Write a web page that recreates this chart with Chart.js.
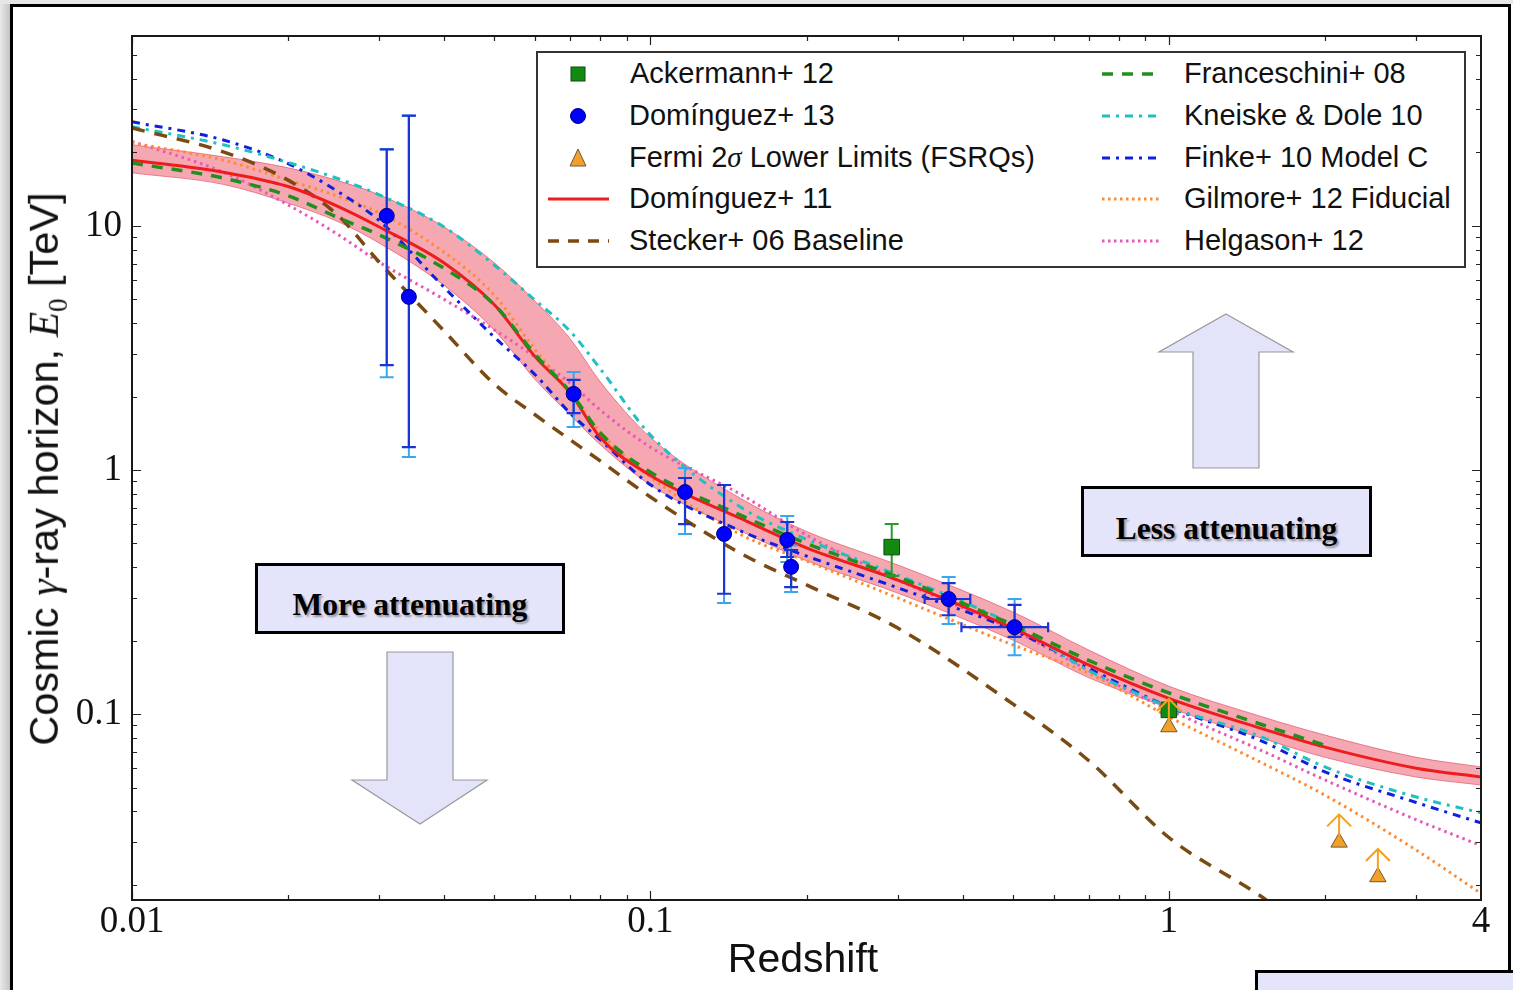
<!DOCTYPE html>
<html>
<head>
<meta charset="utf-8">
<script src="https://cdn.jsdelivr.net/npm/chart.js@4.4.1/dist/chart.umd.min.js"></script>
<style>
html,body{margin:0;padding:0;width:1513px;height:990px;overflow:hidden;background:#fff;}
#bgleft{position:absolute;left:0;top:0;width:10px;height:990px;background:linear-gradient(90deg,#e9e9e9,#c4c4c4);}
#bgtop{position:absolute;left:0;top:0;width:1513px;height:4px;background:#e6e6e6;}
#frame{position:absolute;left:10px;top:4px;width:1501px;height:1100px;border:3px solid #000;box-sizing:border-box;background:#fff;}
#c{position:absolute;left:0;top:0;}
#legend{position:absolute;left:536px;top:51px;width:930px;height:217px;border:2px solid #333;box-sizing:border-box;background:#fff;font-family:"Liberation Sans",Arial,sans-serif;font-size:29px;color:#111;}
#legend .t{position:absolute;white-space:nowrap;line-height:30px;height:30px;}
#legend svg{position:absolute;left:0;top:0;}
.it{font-family:"Liberation Serif","DejaVu Serif",serif;font-style:italic;}
#ytitle{position:absolute;left:47px;top:469px;transform:translate(-50%,-50%) rotate(-90deg);white-space:nowrap;font-family:"Liberation Sans",Arial,sans-serif;font-size:41.5px;color:#111;}
#xtitle{position:absolute;left:803px;top:958px;transform:translate(-50%,-50%);white-space:nowrap;font-family:"Liberation Sans",Arial,sans-serif;font-size:41px;color:#111;}
.box{position:absolute;border:3px solid #000;box-sizing:border-box;background:#e4e4fa;font-family:"Liberation Serif","Times New Roman",serif;font-weight:bold;font-size:31.5px;color:#000;text-align:center;text-shadow:2px 2px 2px rgba(0,0,0,0.35);}
#arrows{position:absolute;left:0;top:0;}
</style>
</head>
<body>
<div id="bgleft"></div>
<div id="bgtop"></div>
<div id="frame"></div>
<canvas id="c" width="1513" height="990"></canvas>

<svg id="arrows" width="1513" height="990">
  <polygon points="1226,314 1293,352 1259,352 1259,468 1193,468 1193,352 1159,352" fill="#e3e3f9" stroke="#9a9a9a" stroke-width="1.2"/>
  <polygon points="387,652 453,652 453,780 487,780 420,824 352,780 387,780" fill="#e3e3f9" stroke="#9a9a9a" stroke-width="1.2"/>
</svg>
<div class="box" style="left:255px;top:563px;width:310px;height:71px;line-height:78px;">More attenuating</div>
<div class="box" style="left:1081px;top:486px;width:291px;height:71px;line-height:80px;">Less attenuating</div>
<div class="box" style="left:1255px;top:970px;width:300px;height:60px;"></div>

<div id="ytitle">Cosmic <span class="it">γ</span>-ray horizon, <span class="it">E</span><sub style="font-family:'Liberation Serif',serif;font-size:27px;">0</sub> [TeV]</div>
<div id="xtitle">Redshift</div>

<div id="legend">
  <svg width="930" height="217">
    <rect x="33" y="14" width="14" height="14" fill="#128a12" stroke="#0b4d0b" stroke-width="1"/>
    <circle cx="40" cy="63" r="7.5" fill="#0000ff" stroke="#00007a" stroke-width="1"/>
    <polygon points="40,96 48,113 32,113" fill="#f2a02a" stroke="#6a5a3a" stroke-width="1"/>
    <line x1="10" y1="146" x2="71" y2="146" stroke="#ee1c1c" stroke-width="3"/>
    <line x1="10" y1="188" x2="71" y2="188" stroke="#7b4a12" stroke-width="3.5" stroke-dasharray="11,9"/>
    <line x1="564" y1="21" x2="624" y2="21" stroke="#1f8f1f" stroke-width="3.5" stroke-dasharray="11,9"/>
    <line x1="564" y1="63" x2="624" y2="63" stroke="#20c0c0" stroke-width="3" stroke-dasharray="8,6,3,6"/>
    <line x1="564" y1="105" x2="624" y2="105" stroke="#1020e0" stroke-width="3" stroke-dasharray="8,6,3,6"/>
    <line x1="564" y1="146" x2="624" y2="146" stroke="#ff8a30" stroke-width="3" stroke-dasharray="2.5,3.5"/>
    <line x1="564" y1="188" x2="624" y2="188" stroke="#e858b8" stroke-width="3" stroke-dasharray="2.5,3.5"/>
  </svg>
  <div class="t" style="left:92px;top:5px;">Ackermann+ 12</div>
  <div class="t" style="left:91px;top:47px;">Domínguez+ 13</div>
  <div class="t" style="left:91px;top:89px;">Fermi 2<span class="it">σ</span> Lower Limits (FSRQs)</div>
  <div class="t" style="left:91px;top:130px;">Domínguez+ 11</div>
  <div class="t" style="left:91px;top:172px;">Stecker+ 06 Baseline</div>
  <div class="t" style="left:646px;top:5px;">Franceschini+ 08</div>
  <div class="t" style="left:646px;top:47px;">Kneiske &amp; Dole 10</div>
  <div class="t" style="left:646px;top:89px;">Finke+ 10 Model C</div>
  <div class="t" style="left:646px;top:130px;">Gilmore+ 12 Fiducial</div>
  <div class="t" style="left:646px;top:172px;">Helgason+ 12</div>
</div>

<script>
// ---------- data ----------
const zGrid        = [0.01, 0.015, 0.02, 0.025, 0.03, 0.04, 0.05, 0.06, 0.07, 0.08, 0.1, 0.15, 0.2, 0.3, 0.5, 0.7, 1, 1.5, 2, 3, 4];
const dominguez11  = [18.6, 16.6, 14.5, 12.0, 9.9, 7.05, 4.75, 2.9, 2.07, 1.36, 0.95, 0.63, 0.48, 0.354, 0.225, 0.159, 0.116, 0.0876, 0.0732, 0.060, 0.0552];
const dom11Upper   = [21.5, 19.2, 17.3, 15.3, 13.4, 9.9, 7.06, 4.9, 3.45, 2.3, 1.36, 0.76, 0.56, 0.408, 0.262, 0.183, 0.130, 0.098, 0.082, 0.0665, 0.0607];
const dom11Lower   = [16.5, 14.8, 12.4, 10.4, 8.5, 5.7, 3.74, 2.34, 1.68, 1.27, 0.868, 0.56, 0.425, 0.313, 0.201, 0.141, 0.106, 0.080, 0.0665, 0.0552, 0.0512];
const franceschini = [18.1, 15.7, 13.3, 10.8, 9.18, 6.7, 4.75, 2.96, 2.09, 1.42, 0.98, 0.65, 0.50, 0.364, 0.232, 0.166, 0.122, 0.091, 0.0745, null, null];
const stecker      = [25.2, 20.1, 15.4, 11.0, 7.1, 3.71, 2.25, 1.68, 1.33, 1.09, 0.775, 0.453, 0.338, 0.225, 0.110, 0.0645, 0.0312, 0.0180, 0.0115, null, null];
const kneiske      = [25.5, 21.5, 18.2, 15.6, 13.4, 9.9, 6.9, 4.95, 3.7, 2.6, 1.39, 0.70, 0.52, 0.371, 0.232, 0.151, 0.107, 0.081, 0.0607, 0.0457, 0.0394];
const finke        = [26.7, 22.5, 18.0, 13.8, 10.5, 5.6, 3.5, 2.45, 1.71, 1.33, 0.87, 0.56, 0.444, 0.329, 0.221, 0.154, 0.107, 0.078, 0.058, 0.0434, 0.0358];
const gilmore      = [21.9, 18.6, 15.4, 13.2, 11.3, 7.8, 5.2, 3.1, 2.09, 1.43, 0.936, 0.541, 0.424, 0.299, 0.192, 0.147, 0.0974, 0.0636, 0.0465, 0.0277, 0.0184];
const helgason     = [22.2, 16.6, 12.2, 9.2, 7.1, 5.0, 3.75, 2.9, 2.27, 1.76, 1.24, 0.79, 0.541, 0.354, 0.221, 0.151, 0.104, 0.0713, 0.0537, 0.0369, 0.0289];

// Domínguez+ 13 measurements
const dom13Z      = [0.031, 0.0342, 0.0711, 0.1166, 0.1387, 0.1836, 0.1868, 0.376, 0.504];
const dom13E      = [11.0, 5.12, 2.05, 0.812, 0.547, 0.517, 0.401, 0.296, 0.227];
const dom13StatLo = [2.69, 1.24, 1.71, 0.60, 0.311, 0.44, 0.331, 0.254, 0.207];
const dom13StatHi = [20.6, 28.3, 2.34, 0.927, 0.868, 0.612, 0.47, 0.344, 0.28];
const dom13SystLo = [2.40, 1.13, 1.50, 0.547, 0.285, 0.42, 0.316, 0.234, 0.174];
const dom13SystHi = [20.6, 28.3, 2.52, 1.02, 0.868, 0.648, 0.49, 0.364, 0.296];
const dom13ZLo    = [null, null, null, null, null, null, null, 0.338, 0.398];
const dom13ZHi    = [null, null, null, null, null, null, null, 0.414, 0.585];

// Ackermann+ 12
const ackZ  = [0.292, 1.0];
const ackE  = [0.483, 0.104];
const ackLo = [0.368, null];
const ackHi = [0.60, null];

// Fermi 2-sigma lower limits (FSRQs)
const fermiZ = [1.0, 2.13, 2.53];
const fermiE = [0.0885, 0.0298, 0.0215];

// axis ticks
const xMajor = [0.01, 0.1, 1];
const xMinor = [0.02,0.03,0.04,0.05,0.06,0.07,0.08,0.09,0.2,0.3,0.4,0.5,0.6,0.7,0.8,0.9,2,3];
const xTickLabels = {0.01:'0.01', 0.1:'0.1', 1:'1', 4:'4'};
const yMajor = [0.1, 1, 10];
const yMinor = [0.02,0.03,0.04,0.05,0.06,0.07,0.08,0.09,0.2,0.3,0.4,0.5,0.6,0.7,0.8,0.9,2,3,4,5,6,7,8,9,20,30,40,50];
const yTickLabels = {0.1:'0.1', 1:'1', 10:'10'};

// ---------- helpers ----------
const curve = arr => zGrid.map((z,i)=> arr[i]==null ? null : {x:z, y:arr[i]}).filter(p=>p);
const pts = (zs, es) => zs.map((z,i)=>({x:z, y:es[i]}));

function lineDS(label, arr, color, width, dash, order){
  return {label, data: curve(arr), borderColor: color, backgroundColor: color, borderWidth: width,
    borderDash: dash, borderCapStyle:'butt', pointRadius: 0, fill: false, cubicInterpolationMode:'monotone', order};
}

const datasets = [
  {label:'Ackermann+ 12', data: pts(ackZ, ackE), showLine:false, pointStyle:'rect', pointRadius:11,
   backgroundColor:'#128a12', borderColor:'#0b4d0b', borderWidth:1, order:2, err:'ack'},
  {label:'Fermi 2σ Lower Limits (FSRQs)', data: pts(fermiZ, fermiE), showLine:false, pointStyle:'triangle', pointRadius:9.5,
   backgroundColor:'#f2a02a', borderColor:'#6a5a3a', borderWidth:1, order:1, err:'fermi'},
  {label:'Domínguez+ 13', data: pts(dom13Z, dom13E), showLine:false, pointStyle:'circle', pointRadius:7.5,
   backgroundColor:'#0000ff', borderColor:'#00007a', borderWidth:1, order:0, err:'dom13'},
  lineDS('Franceschini+ 08', franceschini, '#1f8f1f', 3.5, [11,9], 4),
  lineDS('Domínguez+ 11', dominguez11, '#ee1c1c', 3, [], 5),
  lineDS('Stecker+ 06 Baseline', stecker, '#7b4a12', 3.5, [13,10], 6),
  lineDS('Kneiske & Dole 10', kneiske, '#20c0c0', 3, [8,6,3,6], 6),
  lineDS('Finke+ 10 Model C', finke, '#1020e0', 3, [8,6,3,6], 6),
  lineDS('Gilmore+ 12 Fiducial', gilmore, '#ff8a30', 3, [2.5,4], 6),
  lineDS('Helgason+ 12', helgason, '#e858b8', 3, [2.5,4], 6),
  {label:'band upper', data: curve(dom11Upper), borderColor:'rgba(225,90,110,0.75)', borderWidth:1, pointRadius:0,
   fill:'+1', backgroundColor:'rgba(238,96,115,0.55)', cubicInterpolationMode:'monotone', order:10},
  {label:'band lower', data: curve(dom11Lower), borderColor:'rgba(225,90,110,0.75)', borderWidth:1, pointRadius:0,
   fill:false, cubicInterpolationMode:'monotone', order:10}
];

// error bars / limit arrows drawn through the scales
const errPlugin = {
  id:'errbars',
  beforeDatasetDraw(chart, args){
    const ds = chart.data.datasets[args.index];
    if(!ds.err) return;
    const {ctx, scales:{x, y}} = chart;
    const X = v => x.getPixelForValue(v), Y = v => y.getPixelForValue(v);
    ctx.save();
    const vbar = (px, lo, hi, cap, color, w) => {
      ctx.strokeStyle = color; ctx.lineWidth = w; ctx.beginPath();
      ctx.moveTo(px, Y(lo)); ctx.lineTo(px, Y(hi));
      ctx.moveTo(px-cap, Y(lo)); ctx.lineTo(px+cap, Y(lo));
      ctx.moveTo(px-cap, Y(hi)); ctx.lineTo(px+cap, Y(hi));
      ctx.stroke();
    };
    if(ds.err === 'dom13'){
      dom13Z.forEach((z,i)=> vbar(X(z), dom13SystLo[i], dom13SystHi[i], 7, '#3aa6ee', 2));
      dom13Z.forEach((z,i)=> vbar(X(z), dom13StatLo[i], dom13StatHi[i], 7, '#1a34d6', 2.2));
      dom13Z.forEach((z,i)=>{
        if(dom13ZLo[i]==null) return;
        const py = Y(dom13E[i]);
        ctx.strokeStyle = '#1a34d6'; ctx.lineWidth = 2.2; ctx.beginPath();
        ctx.moveTo(X(dom13ZLo[i]), py); ctx.lineTo(X(dom13ZHi[i]), py);
        ctx.moveTo(X(dom13ZLo[i]), py-5); ctx.lineTo(X(dom13ZLo[i]), py+5);
        ctx.moveTo(X(dom13ZHi[i]), py-5); ctx.lineTo(X(dom13ZHi[i]), py+5);
        ctx.stroke();
      });
    } else if(ds.err === 'ack'){
      ackZ.forEach((z,i)=>{ if(ackLo[i]!=null) vbar(X(z), ackLo[i], ackHi[i], 7, '#2a9a2a', 2); });
    }
    ctx.restore();
  },
  afterDatasetDraw(chart, args){
    const ds = chart.data.datasets[args.index];
    if(ds.err !== 'fermi') return;
    const {ctx, scales:{x, y}} = chart;
    ctx.save();
    ctx.strokeStyle = '#f5a020'; ctx.lineWidth = 2;
    fermiZ.forEach((z,i)=>{
      const px = x.getPixelForValue(z), py = y.getPixelForValue(fermiE[i]);
      const tip = py - 28;
      ctx.beginPath();
      ctx.moveTo(px, py-6); ctx.lineTo(px, tip);
      ctx.moveTo(px-12, tip+12); ctx.lineTo(px, tip); ctx.lineTo(px+12, tip+12);
      ctx.stroke();
    });
    ctx.restore();
  }
};

// inward ticks on all four sides + frame
const framePlugin = {
  id:'frameTicks',
  afterDatasetsDraw(chart){
    const {ctx, chartArea:a, scales:{x, y}} = chart;
    ctx.save();
    ctx.strokeStyle = '#222'; ctx.lineWidth = 1.2;
    ctx.beginPath();
    const tx = (v, len) => { const p = Math.round(x.getPixelForValue(v))+0.5;
      ctx.moveTo(p, a.bottom); ctx.lineTo(p, a.bottom-len); ctx.moveTo(p, a.top); ctx.lineTo(p, a.top+len); };
    const ty = (v, len) => { const p = Math.round(y.getPixelForValue(v))+0.5;
      ctx.moveTo(a.left, p); ctx.lineTo(a.left+len, p); ctx.moveTo(a.right, p); ctx.lineTo(a.right-len, p); };
    xMinor.forEach(v=>tx(v,5)); xMajor.forEach(v=>tx(v,9));
    yMinor.forEach(v=>ty(v,5)); yMajor.forEach(v=>ty(v,9));
    ctx.stroke();
    ctx.lineWidth = 2; ctx.strokeStyle = '#1a1a1a';
    ctx.strokeRect(a.left, a.top, a.right-a.left, a.bottom-a.top);
    ctx.restore();
  }
};

const tickFont = {family:'"Liberation Serif", "DejaVu Serif", serif', size:37, lineHeight:1.0};

new Chart(document.getElementById('c'), {
  type:'line',
  data:{datasets},
  plugins:[errPlugin, framePlugin],
  options:{
    responsive:false, animation:false, devicePixelRatio:1,
    layout:{padding:{left:0, top:36, right:32, bottom:0}},
    plugins:{legend:{display:false}, tooltip:{enabled:false}},
    scales:{
      x:{type:'logarithmic', min:0.01, max:4,
         grid:{display:false, drawTicks:false}, border:{display:false},
         afterBuildTicks: s => { s.ticks = [...xMajor, 4].map(v=>({value:v})); },
         afterFit: s => { s.height = 90; },
         ticks:{autoSkip:false, maxRotation:0, padding:4, color:'#111', font:tickFont,
                callback: v => xTickLabels[v] ?? ''}},
      y:{type:'logarithmic', min:0.0173, max:60,
         grid:{display:false, drawTicks:false}, border:{display:false},
         afterBuildTicks: s => { s.ticks = yMajor.map(v=>({value:v})); },
         afterFit: s => { s.width = 132; },
         ticks:{autoSkip:false, padding:10, color:'#111', font:tickFont,
                callback: v => yTickLabels[v] ?? ''}}
    }
  }
});
</script>
</body>
</html>
